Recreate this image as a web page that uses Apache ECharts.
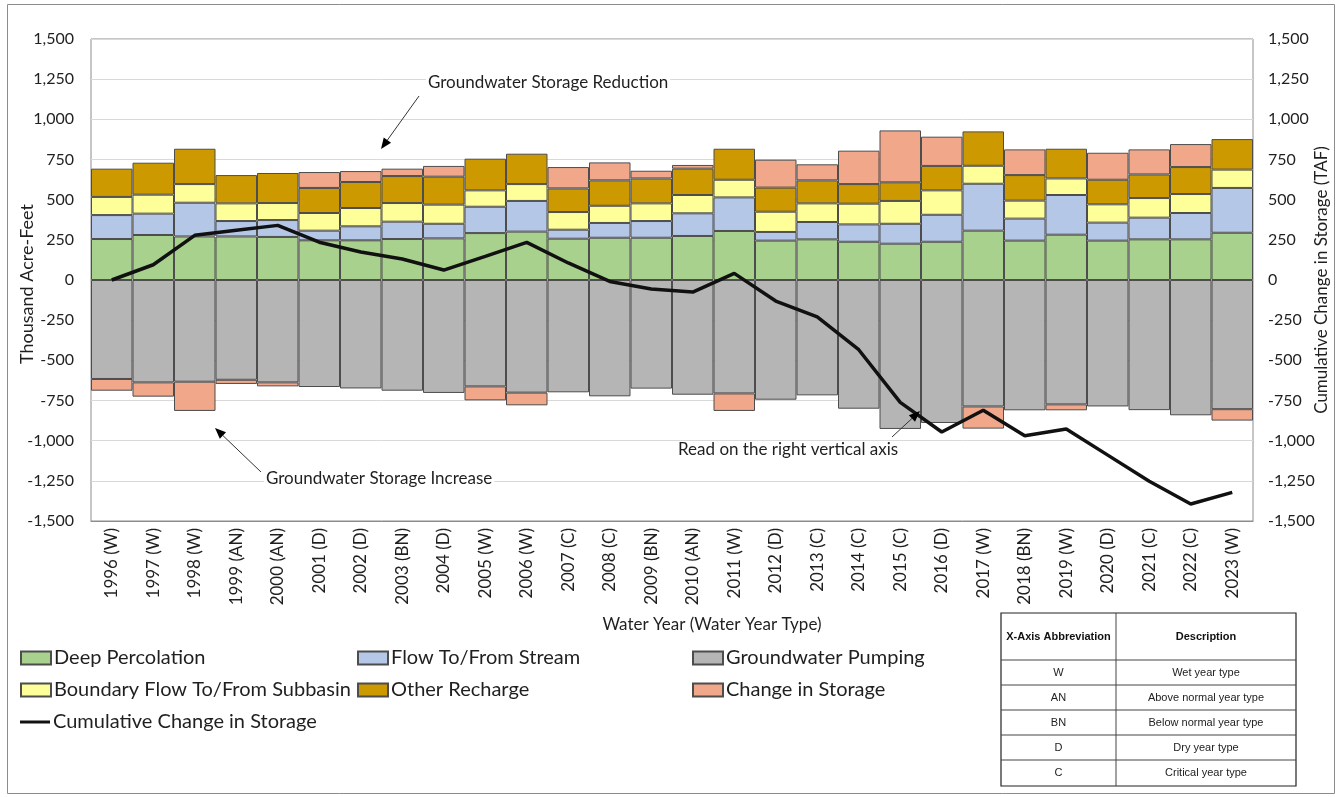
<!DOCTYPE html>
<html>
<head>
<meta charset="utf-8">
<script src="https://cdn.jsdelivr.net/npm/echarts@6/dist/echarts.min.js"></script>
<style>
  html, body { margin: 0; padding: 0; background: #fff; }
  #chart { width: 1339px; height: 797px; }
</style>
</head>
<body>
<div id="chart"></div>
<script>
// categories (water year + type)
const years = ['1996 (W)', '1997 (W)', '1998 (W)', '1999 (AN)', '2000 (AN)', '2001 (D)', '2002 (D)',
  '2003 (BN)', '2004 (D)', '2005 (W)', '2006 (W)', '2007 (C)', '2008 (C)', '2009 (BN)', '2010 (AN)',
  '2011 (W)', '2012 (D)', '2013 (C)', '2014 (C)', '2015 (C)', '2016 (D)', '2017 (W)', '2018 (BN)',
  '2019 (W)', '2020 (D)', '2021 (C)', '2022 (C)', '2023 (W)'];

// thousand acre-feet
const deepPercolation = [255, 280, 271, 271, 268, 247, 247, 255, 259, 292, 301, 257, 263, 263, 274,
  305, 245, 253, 238, 226, 238, 307, 245, 282, 245, 253, 253, 294];
const flowStream = [149, 133, 210, 96, 105, 60, 87, 108, 91, 164, 191, 56, 92, 104, 141,
  209, 54, 108, 108, 124, 168, 292, 137, 247, 112, 135, 164, 279];
const gwPumping = [-616, -637, -633, -621, -637, -666, -675, -689, -703, -662, -701, -699, -724, -676, -714,
  -706, -745, -718, -801, -927, -890, -787, -811, -774, -787, -810, -842, -804];
const boundaryFlow = [113, 118, 116, 110, 106, 110, 114, 116, 119, 102, 105, 110, 107, 110, 114,
  110, 126, 116, 129, 142, 152, 112, 112, 103, 114, 122, 118, 114];
const otherRecharge = [176, 199, 220, 176, 187, 156, 162, 168, 174, 197, 189, 147, 158, 155, 164,
  193, 150, 143, 122, 116, 152, 214, 159, 185, 153, 147, 168, 190];
// positive = storage reduction, negative = storage increase
const changeStorage = [-73, -89, -182, -26, -25, 99, 68, 46, 67, -87, -79, 133, 112, 48, 23,
  -109, 174, 100, 208, 323, 182, -138, 160, -37, 168, 156, 143, -71];
const cumulativeChange = [0, 95, 278, 310, 340, 235, 174, 131, 62, 147, 234, 106, -9, -56, -75,
  41, -131, -230, -434, -762, -946, -811, -969, -927, -1090, -1253, -1394, -1322];

// y axis ticks (both axes)
const yMin = -1500;
const yMax = 1500;
const yStep = 250;

// abbreviation table
const tableHeader = ['X-Axis Abbreviation', 'Description'];
const tableRows = [
  ['W', 'Wet year type'],
  ['AN', 'Above normal year type'],
  ['BN', 'Below normal year type'],
  ['D', 'Dry year type'],
  ['C', 'Critical year type']
];

const FONT = 'Lato, "Open Sans", sans-serif';
const NARROW = '"Liberation Sans Narrow", "Liberation Sans", Arial, sans-serif';
const TXT = '#1f1f1f';

const chart = echarts.init(document.getElementById('chart'));

function barSeries(name, data, color) {
  return {
    name: name,
    type: 'bar',
    stack: 'total',
    barCategoryGap: '0%',
    data: data,
    itemStyle: { color: color, borderColor: '#4d4d4d', borderWidth: 1 }
  };
}

// annotation arrow: line + triangular head at (x2, y2)
function arrow(x1, y1, x2, y2) {
  const a = Math.atan2(y2 - y1, x2 - x1);
  const len = 11, half = 4.5;
  const bx = x2 - len * Math.cos(a), by = y2 - len * Math.sin(a);
  const px = -Math.sin(a) * half, py = Math.cos(a) * half;
  return [
    { type: 'line', z: 10, shape: { x1: x1, y1: y1, x2: bx, y2: by }, style: { stroke: '#333', lineWidth: 1 } },
    { type: 'polygon', z: 10, shape: { points: [[x2, y2], [bx + px, by + py], [bx - px, by - py]] }, style: { fill: '#000' } }
  ];
}

function legendAt(name, left, top, isLine) {
  return {
    data: [{ name: name, icon: 'rect' }],
    left: left,
    top: top,
    padding: 0,
    itemWidth: 30,
    itemHeight: isLine ? 3 : 13,
    textStyle: { fontFamily: FONT, fontSize: 20, color: TXT, padding: [0, 0, 0, -2] }
  };
}

function note(text, x, y) {
  return {
    type: 'text', x: x, y: y, z: 10,
    style: {
      text: text, font: '17px ' + FONT, fill: TXT, align: 'left', verticalAlign: 'middle',
      backgroundColor: '#fff', padding: [0, 2]
    }
  };
}

// table graphics
const tx = 1001, ty = 613, tw = 295, colX = 1116;
const rowYs = [613, 660, 685, 710, 735, 760, 786];
const tableGraphic = [
  { type: 'rect', shape: { x: tx, y: ty, width: tw, height: rowYs[6] - ty }, style: { fill: '#fff', stroke: '#222', lineWidth: 1.2 } },
  { type: 'line', shape: { x1: colX, y1: ty, x2: colX, y2: rowYs[6] }, style: { stroke: '#444', lineWidth: 1 } }
];
for (let i = 1; i < 6; i++) {
  tableGraphic.push({ type: 'line', shape: { x1: tx, y1: rowYs[i], x2: tx + tw, y2: rowYs[i] }, style: { stroke: '#444', lineWidth: 1 } });
}
tableGraphic.push(
  { type: 'text', x: (tx + colX) / 2, y: (rowYs[0] + rowYs[1]) / 2, style: { text: tableHeader[0], font: 'bold 11px ' + NARROW, fill: '#111', align: 'center', verticalAlign: 'middle' } },
  { type: 'text', x: (colX + tx + tw) / 2, y: (rowYs[0] + rowYs[1]) / 2, style: { text: tableHeader[1], font: 'bold 11px ' + NARROW, fill: '#111', align: 'center', verticalAlign: 'middle' } }
);
tableRows.forEach(function (r, i) {
  const cy = (rowYs[i + 1] + rowYs[i + 2]) / 2;
  tableGraphic.push(
    { type: 'text', x: (tx + colX) / 2, y: cy, style: { text: r[0], font: '11px ' + NARROW, fill: '#222', align: 'center', verticalAlign: 'middle' } },
    { type: 'text', x: (colX + tx + tw) / 2, y: cy, style: { text: r[1], font: '11px ' + NARROW, fill: '#222', align: 'center', verticalAlign: 'middle' } }
  );
});

const option = {
  animation: false,
  backgroundColor: '#fff',
  grid: {
    left: 91, right: 86, top: 39, bottom: 276,
    show: true, borderColor: '#8c8c8c', borderWidth: 1
  },
  legend: [
    legendAt('Deep Percolation', 20, 648),
    legendAt('Flow To/From Stream', 357, 648),
    legendAt('Groundwater Pumping', 692, 648),
    legendAt('Boundary Flow To/From Subbasin', 20, 680),
    legendAt('Other Recharge', 357, 680),
    legendAt('Change in Storage', 692, 680),
    legendAt('Cumulative Change in Storage', 20, 712, true)
  ],
  xAxis: {
    type: 'category',
    data: years,
    boundaryGap: true,
    axisLine: { onZero: false, lineStyle: { color: '#8c8c8c' } },
    axisTick: { alignWithLabel: true, length: 5, lineStyle: { color: '#8c8c8c' } },
    axisLabel: { rotate: 90, margin: 7, fontFamily: FONT, fontSize: 17, color: TXT, interval: 0 }
  },
  yAxis: [
    {
      type: 'value', min: yMin, max: yMax, interval: yStep,
      axisLine: { show: false }, axisTick: { show: false },
      splitLine: { lineStyle: { color: '#d9d9d9', width: 1 } },
      axisLabel: {
        margin: 17, fontFamily: FONT, fontSize: 16, color: TXT,
        formatter: function (v) { return v.toLocaleString('en-US'); }
      }
    },
    {
      type: 'value', min: yMin, max: yMax, interval: yStep, position: 'right',
      axisLine: { show: false }, axisTick: { show: false }, splitLine: { show: false },
      axisLabel: {
        margin: 15, fontFamily: FONT, fontSize: 16, color: TXT,
        formatter: function (v) { return v.toLocaleString('en-US'); }
      }
    }
  ],
  series: [
    barSeries('Deep Percolation', deepPercolation, '#a9d18e'),
    barSeries('Flow To/From Stream', flowStream, '#b4c7e7'),
    barSeries('Groundwater Pumping', gwPumping, '#b5b5b5'),
    barSeries('Boundary Flow To/From Subbasin', boundaryFlow, '#ffff99'),
    barSeries('Other Recharge', otherRecharge, '#cc9900'),
    barSeries('Change in Storage', changeStorage, '#f1a78a'),
    {
      name: 'Cumulative Change in Storage',
      type: 'line',
      yAxisIndex: 1,
      data: cumulativeChange,
      symbol: 'none',
      showSymbol: false,
      lineStyle: { color: '#111', width: 3.5 },
      itemStyle: { color: '#111' },
      z: 5
    }
  ],
  graphic: [
    { type: 'rect', shape: { x: 7.5, y: 4.5, width: 1327, height: 789 }, style: { fill: 'none', stroke: '#8c8c8c', lineWidth: 1 }, silent: true },
    { type: 'text', x: 27, y: 284, rotation: Math.PI / 2, style: { text: 'Thousand Acre-Feet', font: '18px ' + FONT, fill: TXT, align: 'center', verticalAlign: 'middle' } },
    { type: 'text', x: 1322, y: 280, rotation: Math.PI / 2, style: { text: 'Cumulative Change in Storage (TAF)', font: '17px ' + FONT, fill: TXT, align: 'center', verticalAlign: 'middle' } },
    { type: 'text', x: 712, y: 625, style: { text: 'Water Year (Water Year Type)', font: '17px ' + FONT, fill: TXT, align: 'center', verticalAlign: 'middle' } },
    note('Groundwater Storage Reduction', 426, 83),
    note('Groundwater Storage Increase', 264, 479),
    note('Read on the right vertical axis', 676, 450)
  ]
    .concat(arrow(419, 96, 381, 149))
    .concat(arrow(261, 472, 215, 428))
    .concat(arrow(892, 437, 920, 411))
    .concat(tableGraphic)
};

chart.setOption(option);
</script>
</body>
</html>
